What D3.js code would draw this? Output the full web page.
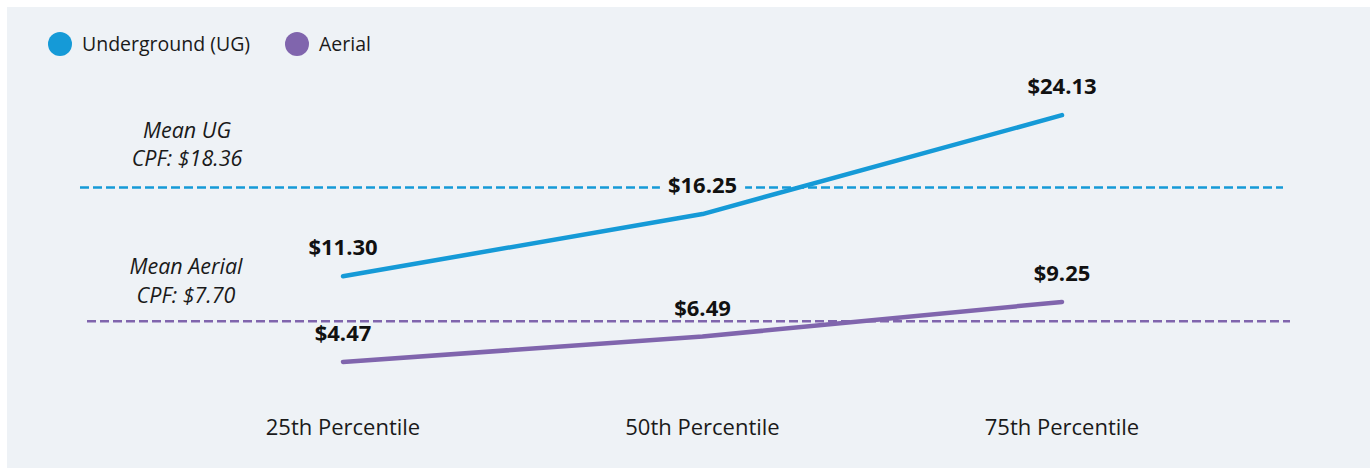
<!DOCTYPE html>
<html>
<head>
<meta charset="utf-8">
<script src="https://cdn.jsdelivr.net/npm/d3@7"></script>
<style>
  html, body { margin: 0; padding: 0; background: #fff; }
  svg { display: block; font-family: 'Open Sans', 'Noto Sans', sans-serif; }
</style>
</head>
<body>
<svg width="1372" height="468" viewBox="0 0 1372 468"></svg>
<script>
// input data
const categories = ['25th Percentile', '50th Percentile', '75th Percentile'];
const seriesNames = ['Underground (UG)', 'Aerial'];
const ugValues = [11.30, 16.25, 24.13];
const aerialValues = [4.47, 6.49, 9.25];
const meanValues = [18.36, 7.70];
const meanLabels = [['Mean UG', 'CPF: $18.36'], ['Mean Aerial', 'CPF: $7.70']];
const colors = ['#159ad7', '#8065ad'];

const svg = d3.select('svg');
const bg = '#eef2f6';

// panel
svg.append('rect')
  .attr('x', 7).attr('y', 7)
  .attr('width', 1363).attr('height', 461)
  .attr('fill', bg);

// scales
const x = d3.scalePoint()
  .domain(categories)
  .range([343, 1062]);

const y = d3.scaleLinear()
  .domain([0, 30])
  .range([418, 41.5]);

const series = [
  { name: seriesNames[0], values: ugValues, color: colors[0], mean: meanValues[0], meanLabel: meanLabels[0], dashX: [80, 1283], labelY: [138, 166], labelX: 187 },
  { name: seriesNames[1], values: aerialValues, color: colors[1], mean: meanValues[1], meanLabel: meanLabels[1], dashX: [87, 1290], labelY: [274, 303], labelX: 186 },
];

// legend
const legend = svg.append('g');
const legendX = [60, 297];
series.forEach((s, i) => {
  const g = legend.append('g').attr('transform', `translate(${legendX[i]} 44)`);
  g.append('circle').attr('r', 12).attr('fill', s.color);
  g.append('text')
    .attr('x', 22).attr('y', 7)
    .attr('font-size', 19.5)
    .attr('fill', '#1a1a1a')
    .text(s.name);
});

// mean lines
series.forEach(s => {
  svg.append('line')
    .attr('x1', s.dashX[0]).attr('x2', s.dashX[1])
    .attr('y1', y(s.mean)).attr('y2', y(s.mean))
    .attr('stroke', s.color)
    .attr('stroke-width', 2.5)
    .attr('stroke-dasharray', '9 4');

  svg.append('text')
    .attr('text-anchor', 'middle')
    .attr('font-style', 'italic')
    .attr('font-size', 21.5)
    .attr('fill', '#1a1a1a')
    .selectAll('tspan')
    .data(s.meanLabel)
    .join('tspan')
    .attr('x', s.labelX)
    .attr('y', (d, i) => s.labelY[i])
    .text(d => d);
});

// series lines
const line = d3.line()
  .x((d, i) => x(categories[i]))
  .y(d => y(d));

series.forEach(s => {
  svg.append('path')
    .attr('d', line(s.values))
    .attr('fill', 'none')
    .attr('stroke', s.color)
    .attr('stroke-width', 4.5)
    .attr('stroke-linecap', 'round')
    .attr('stroke-linejoin', 'round');
});

// value labels
series.forEach(s => {
  const g = svg.append('g');
  s.values.forEach((v, i) => {
    const lg = g.append('g')
      .attr('transform', `translate(${x(categories[i])} ${y(v) - 21})`);
    const t = lg.append('text')
      .attr('text-anchor', 'middle')
      .attr('font-size', 22)
      .attr('font-weight', 'bold')
      .attr('fill', '#111')
      .text(`$${v.toFixed(2)}`);
    // hide the dashed line behind a label that sits on it
    const bb = t.node().getBBox();
    if (Math.abs(y(s.mean) - (y(v) - 21 - 7)) < 10) {
      lg.insert('rect', 'text')
        .attr('x', bb.x - 8).attr('y', bb.y)
        .attr('width', bb.width + 16).attr('height', bb.height)
        .attr('fill', bg);
    }
  });
});

// x axis labels
svg.append('g')
  .selectAll('text')
  .data(categories)
  .join('text')
  .attr('x', d => x(d))
  .attr('y', 435)
  .attr('text-anchor', 'middle')
  .attr('font-size', 22)
  .attr('fill', '#1a1a1a')
  .text(d => d);
</script>
</body>
</html>
